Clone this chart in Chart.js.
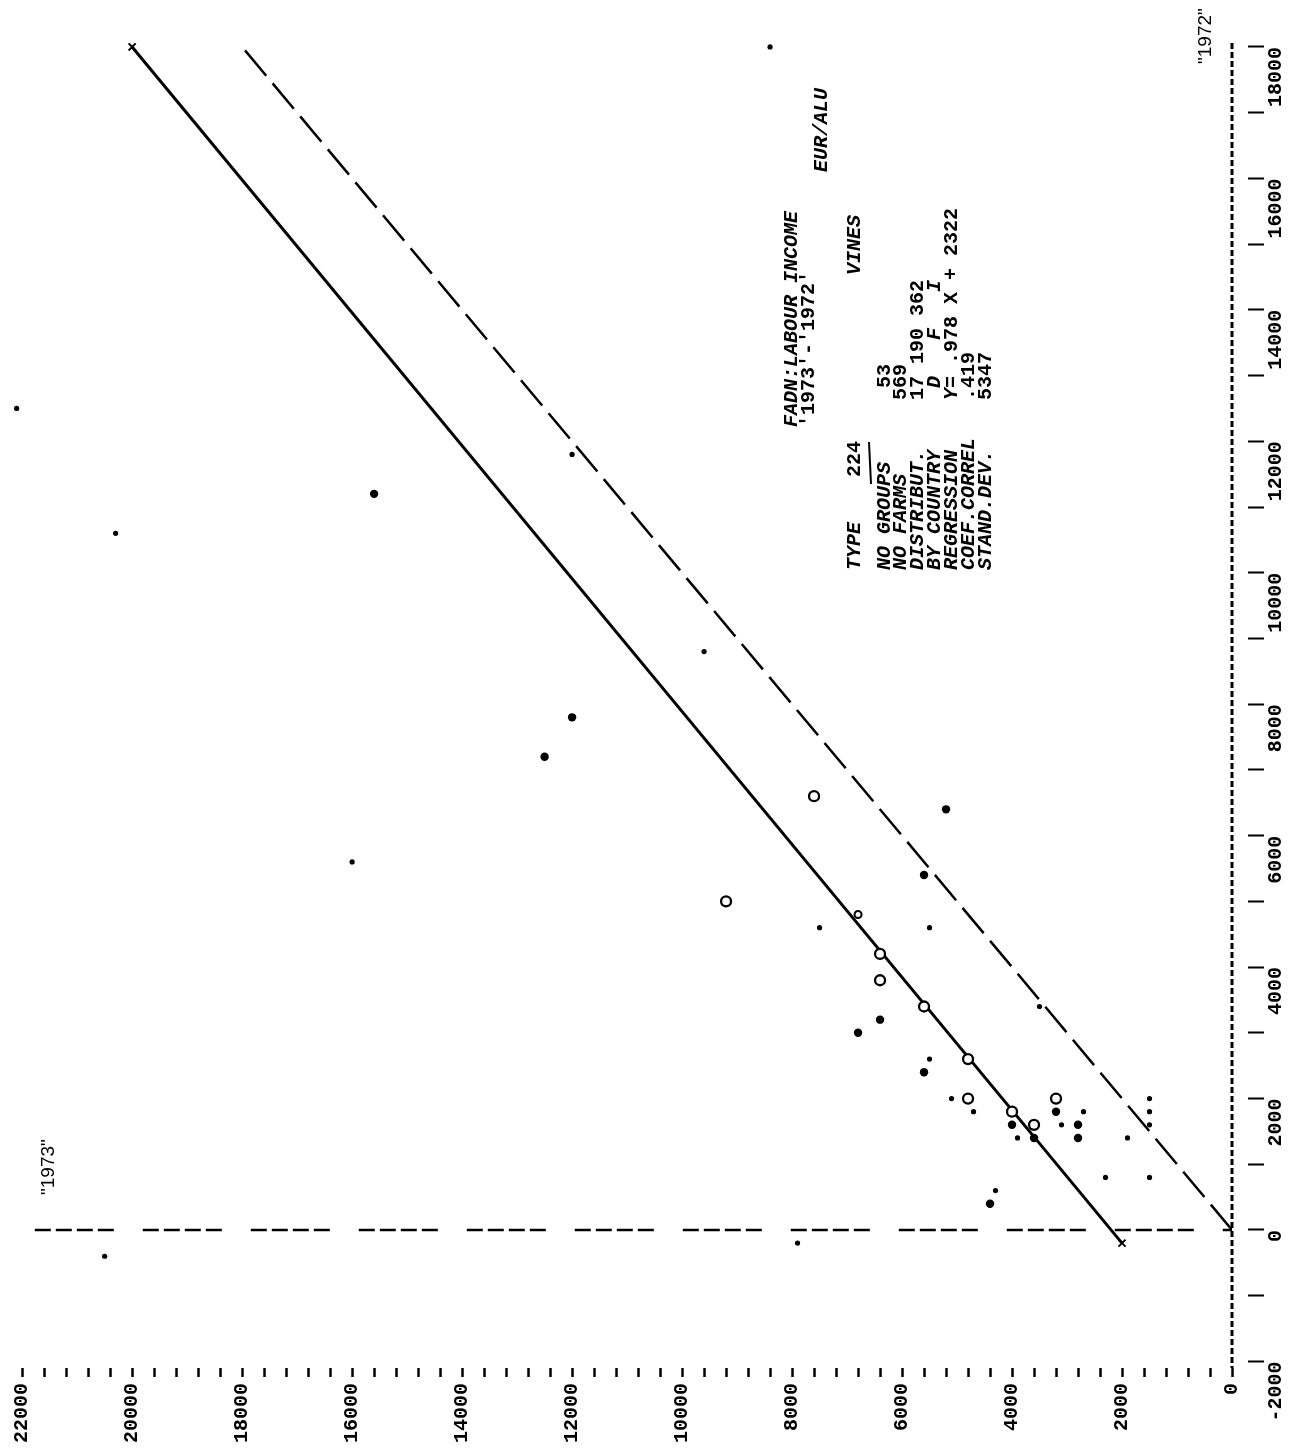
<!DOCTYPE html>
<html>
<head>
<meta charset="utf-8">
<script src="https://cdn.jsdelivr.net/npm/chart.js@4.4.1/dist/chart.umd.min.js"></script>
<style>
  html, body { margin: 0; padding: 0; background: #fff; }
  #wrap { width: 1301px; height: 1454px; }
</style>
</head>
<body>
<div id="wrap"><canvas id="fadnChart" width="1301" height="1454"></canvas></div>
<script>
// x = "1973" labour income, y = "1972" labour income (EUR/ALU)
const smallDots1973 = [8400, 20300, 12000, 9600, 16000, 22100, 7500, 5500, 5500, 5100, 4700, 3900, 3100, 2700, 1900, 1500, 1500, 1500, 2300, 1500, 4300, 7900, 20500, 3500];
const smallDots1972 = [18000, 10600, 11800, 8800, 5600, 12500, 4600, 4600, 2600, 2000, 1800, 1400, 1600, 1800, 1400, 2000, 1800, 1600, 800, 800, 600, -200, -400, 3400];

const bigDots1973 = [15600, 12000, 12500, 5200, 5600, 6400, 6800, 5600, 4000, 3600, 3200, 2800, 2800, 4400];
const bigDots1972 = [11200, 7800, 7200, 6400, 5400, 3200, 3000, 2400, 1600, 1400, 1800, 1600, 1400, 400];

const rings1973 = [7600, 9200, 6400, 6400, 5600, 4800, 4800, 4000, 3600, 3200];
const rings1972 = [6600, 5000, 4200, 3800, 3400, 2600, 2000, 1800, 1600, 2000];

const smallRing1973 = [6800];
const smallRing1972 = [4800];

// regression line ends (marked x), the 45 degree line and the two zero lines
const regression1973 = [2000, 20000];
const regression1972 = [-200, 18000];
const diagonal1973 = [0, 18000];
const diagonal1972 = [0, 18000];
const zero1972Line1973 = [21770, 0];
const zero1972Line1972 = [0, 0];
const zero1973Line1973 = [0, 0];
const zero1973Line1972 = [18060, -2100];

// tick labels
const xLabels = [0, 2000, 4000, 6000, 8000, 10000, 12000, 14000, 16000, 18000, 20000, 22000];
const yLabels = [-2000, 0, 2000, 4000, 6000, 8000, 10000, 12000, 14000, 16000, 18000];

const pts = (xs, ys) => xs.map((x, i) => ({ x: x, y: ys[i] }));

// minor ticks between the labelled ones
const xTicks = [];
for (let v = 0; v <= 22000; v += 400) xTicks.push(v);
const yTicks = [];
for (let v = -2000; v <= 18000; v += 1000) yTicks.push(v);

const ITAL = "italic bold 20px 'Liberation Mono'";
const BOLD = "bold 20px 'Liberation Mono'";
const PLAIN = "19px 'Liberation Sans'";

// text block, written bottom to top
const notes = [
  { text: 'FADN:LABOUR INCOME', x: 792, y: 427, font: ITAL },
  { text: "'1973'-'1972'", x: 809, y: 427, font: BOLD },
  { text: 'EUR/ALU', x: 822, y: 172, font: ITAL },
  { text: 'VINES', x: 855, y: 275, font: ITAL },
  { text: 'TYPE', x: 855, y: 570, font: ITAL },
  { text: '224', x: 855, y: 477, font: BOLD },
  { text: 'NO GROUPS', x: 885, y: 570, font: ITAL },
  { text: '53', x: 885, y: 388, font: BOLD },
  { text: 'NO FARMS', x: 901, y: 570, font: ITAL },
  { text: '569', x: 901, y: 400, font: BOLD },
  { text: 'DISTRIBUT.', x: 918, y: 570, font: ITAL },
  { text: '17 190 362', x: 918, y: 400, font: BOLD },
  { text: 'BY COUNTRY', x: 935, y: 570, font: ITAL },
  { text: ' D   F   I', x: 935, y: 400, font: ITAL },
  { text: 'REGRESSION', x: 952, y: 570, font: ITAL },
  { text: 'Y=', x: 952, y: 400, font: ITAL },
  { text: ' .978 X + 2322', x: 952, y: 376, font: BOLD },
  { text: 'COEF.CORREL', x: 969, y: 570, font: ITAL },
  { text: '.419', x: 969, y: 400, font: BOLD },
  { text: 'STAND.DEV.', x: 986, y: 570, font: ITAL },
  { text: '5347', x: 986, y: 400, font: BOLD },
  { text: '"1973"', x: 49, y: 1195, font: PLAIN },
  { text: '"1972"', x: 1206, y: 64, font: PLAIN }
];

const notePlugin = {
  id: 'notes',
  afterDraw(chart) {
    const ctx = chart.ctx;
    ctx.save();
    ctx.fillStyle = '#000';
    ctx.textAlign = 'left';
    ctx.textBaseline = 'middle';
    notes.forEach(n => {
      ctx.save();
      ctx.font = n.font;
      ctx.translate(n.x, n.y);
      ctx.rotate(-Math.PI / 2);
      ctx.fillText(n.text, 0, 0);
      ctx.restore();
    });
    // bar under "224"
    ctx.strokeStyle = '#000';
    ctx.lineWidth = 2;
    ctx.beginPath();
    ctx.moveTo(871, 484);
    ctx.lineTo(869, 442);
    ctx.stroke();
    ctx.restore();
  }
};

const tickFont = { family: 'Liberation Mono', size: 20, weight: 'bold' };

new Chart(document.getElementById('fadnChart'), {
  type: 'scatter',
  data: {
    datasets: [
      {
        data: pts(smallDots1973, smallDots1972),
        pointRadius: 2.6, pointBackgroundColor: '#000', pointBorderWidth: 0
      },
      {
        data: pts(bigDots1973, bigDots1972),
        pointRadius: 4.2, pointBackgroundColor: '#000', pointBorderWidth: 0
      },
      {
        data: pts(rings1973, rings1972),
        pointRadius: 5, pointBackgroundColor: '#fff', pointBorderColor: '#000', pointBorderWidth: 2.3
      },
      {
        data: pts(smallRing1973, smallRing1972),
        pointRadius: 3.5, pointBackgroundColor: '#fff', pointBorderColor: '#000', pointBorderWidth: 2
      },
      {
        data: pts(regression1973, regression1972),
        showLine: true, borderColor: '#000', borderWidth: 3,
        pointStyle: 'crossRot', pointRadius: 5, pointBorderColor: '#000', pointBorderWidth: 2
      },
      {
        data: pts(diagonal1973, diagonal1972),
        showLine: true, borderColor: '#000', borderWidth: 2.5, borderDash: [33, 10], pointRadius: 0
      },
      {
        data: pts(zero1972Line1973, zero1972Line1972),
        showLine: true, borderColor: '#000', borderWidth: 2.5,
        borderDash: [16, 5, 16, 5, 16, 5, 16, 29], pointRadius: 0
      },
      {
        // dotted "1972" axis at 1973 = 0
        data: pts(zero1973Line1973, zero1973Line1972),
        showLine: true, clip: false, borderColor: '#000', borderWidth: 3,
        borderDash: [6, 3], pointRadius: 0
      }
    ]
  },
  options: {
    responsive: false,
    animation: false,
    layout: { padding: { top: 43, left: 0, right: 0, bottom: 0 } },
    plugins: {
      legend: { display: false },
      tooltip: { enabled: false }
    },
    scales: {
      x: {
        type: 'linear',
        position: 'bottom',
        reverse: true,
        min: 0,
        max: 22270,
        afterBuildTicks: s => { s.ticks = xTicks.map(v => ({ value: v })); },
        afterFit: s => { s.height = 86; },
        border: { display: false },
        grid: { drawOnChartArea: false, drawTicks: true, tickLength: 9, tickWidth: 2.5, tickColor: '#000' },
        ticks: {
          autoSkip: false, minRotation: 90, maxRotation: 90, padding: 6,
          color: '#000', font: tickFont,
          callback: v => xLabels.includes(v) ? String(v) : ''
        }
      },
      y: {
        type: 'linear',
        position: 'right',
        min: -2100,
        max: 18060,
        afterBuildTicks: s => { s.ticks = yTicks.map(v => ({ value: v })); },
        afterFit: s => { s.width = 69; },
        border: { display: false },
        grid: {
          drawOnChartArea: false, drawTicks: true, tickLength: 32, tickWidth: 2,
          tickColor: '#000', tickBorderDash: [0, 16, 16, 200]
        },
        ticks: {
          autoSkip: false, minRotation: 90, maxRotation: 90, crossAlign: 'center',
          padding: -18, labelOffset: 30,
          color: '#000', font: tickFont,
          // padded to five characters so every label ends at its tick
          callback: v => yLabels.includes(v) ? String(v).padStart(5, ' ') : ''
        }
      }
    }
  },
  plugins: [notePlugin]
});
</script>
</body>
</html>
